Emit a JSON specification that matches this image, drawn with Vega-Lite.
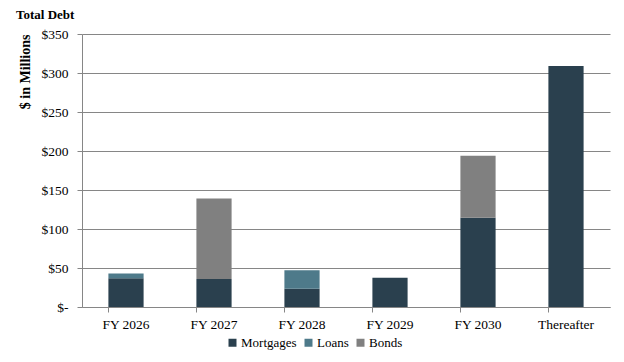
{
  "$schema": "https://vega.github.io/schema/vega-lite/v6.json",
  "autosize": "none",
  "width": 528,
  "height": 273,
  "padding": {"left": 82, "top": 34, "right": 14, "bottom": 55},
  "background": "white",
  "title": {"text": "Total Debt", "anchor": "start", "frame": "group", "dx": -66, "offset": 5, "font": "Liberation Serif", "fontSize": 13, "fontWeight": "bold", "color": "#000000"},
  "config": {"view": {"stroke": null}, "font": "Liberation Serif"},
  "data": {"values": [
    {"period": "FY 2026", "type": "Mortgages", "value": 37},
    {"period": "FY 2026", "type": "Loans", "value": 6},
    {"period": "FY 2027", "type": "Mortgages", "value": 36},
    {"period": "FY 2027", "type": "Bonds", "value": 103},
    {"period": "FY 2028", "type": "Mortgages", "value": 23.5},
    {"period": "FY 2028", "type": "Loans", "value": 23.5},
    {"period": "FY 2029", "type": "Mortgages", "value": 37.5},
    {"period": "FY 2030", "type": "Mortgages", "value": 114.5},
    {"period": "FY 2030", "type": "Bonds", "value": 79.5},
    {"period": "Thereafter", "type": "Mortgages", "value": 309}
  ]},
  "mark": {"type": "bar"},
  "encoding": {
    "x": {"field": "period", "type": "nominal", "sort": null,
      "scale": {"paddingInner": 0.6, "paddingOuter": 0.3},
      "axis": {"title": null, "labelAngle": 0, "labelFont": "Liberation Serif", "labelFontSize": 13.5, "labelColor": "#000000", "domainColor": "#868686", "tickColor": "#868686", "tickSize": 5, "bandPosition": 0, "labelPadding": 5}},
    "y": {"field": "value", "type": "quantitative", "aggregate": "sum",
      "scale": {"domain": [0, 350]},
      "axis": {"title": "$ in Millions", "titleFont": "Liberation Serif", "titleFontSize": 14, "titleFontWeight": "bold", "titleColor": "#000000", "titleAnchor": "end", "titlePadding": 9,
        "values": [0, 50, 100, 150, 200, 250, 300, 350],
        "labelExpr": "datum.value == 0 ? '$-' : '$' + datum.value",
        "labelFont": "Liberation Serif", "labelFontSize": 13.5, "labelColor": "#000000", "labelPadding": 9,
        "domainColor": "#868686", "tickColor": "#868686", "tickSize": 5,
        "gridColor": "#868686", "gridWidth": 1}},
    "color": {"field": "type", "type": "nominal",
      "scale": {"domain": ["Mortgages", "Loans", "Bonds"], "range": ["#2A404E", "#4E7A8A", "#808080"]},
      "legend": {"title": null, "orient": "none", "direction": "horizontal", "legendX": 144, "legendY": 302, "symbolType": "square", "symbolSize": 64, "symbolStrokeWidth": 0, "labelFont": "Liberation Serif", "labelFontSize": 13, "labelColor": "#000000", "columnPadding": 5, "labelOffset": 2}},
    "order": {"field": "type", "sort": "descending"}
  }
}
